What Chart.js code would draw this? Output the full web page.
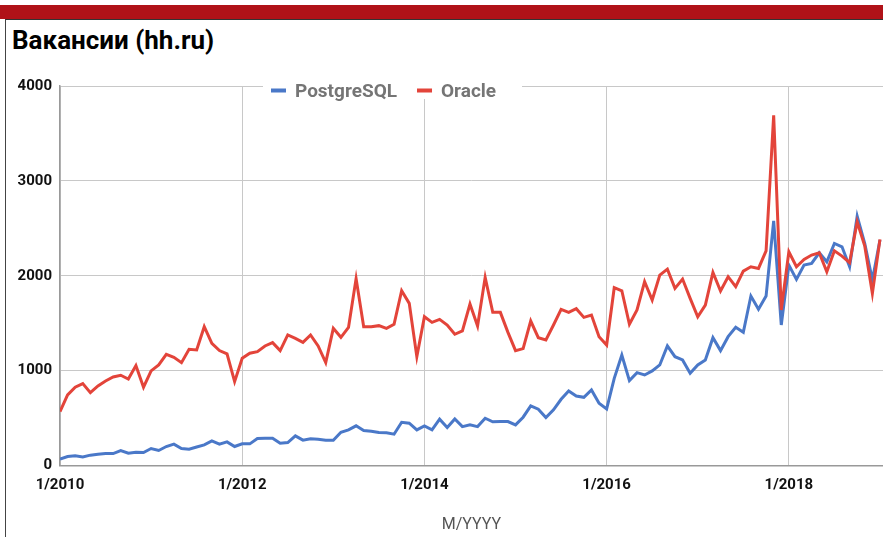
<!DOCTYPE html>
<html>
<head>
<meta charset="utf-8">
<script src="https://cdn.jsdelivr.net/npm/chart.js@4"></script>
<style>
  body { margin: 0; background: #fff; }
  #wrap { position: relative; width: 883px; height: 537px; overflow: hidden; }
  #bar { position: absolute; left: 0; top: 5px; width: 883px; height: 14px; background: #b01218; }
  #box { position: absolute; left: 5px; top: 19px; width: 900px; height: 540px;
         border-left: 1.5px solid #444; border-top: 1.5px solid #333; }
  #title { position: absolute; left: 12px; top: 25px; font: bold 26px Roboto, sans-serif; color: #000; }
  canvas { position: absolute; left: 0; top: 0; }
</style>
</head>
<body>
<div id="wrap">
  <div id="bar"></div>
  <div id="box"></div>
  <div id="title">Вакансии (hh.ru)</div>
  <canvas id="myChart" width="883" height="537"></canvas>
</div>
<script>
// months from 1/2010 to 1/2019
var startYear = 2010;
var monthCount = 109;
var seriesNames = ['PostgreSQL', 'Oracle'];
var seriesColours = ['#4a78c8', '#e3443a'];

var postgres = [
  67, 95, 102, 91, 109, 119, 126, 126, 158, 130, 140, 137,
  179, 158, 200, 225, 179, 172, 195, 218, 260, 225, 249, 200,
  228, 228, 284, 288, 288, 235, 242, 312, 267, 281, 277, 267,
  267, 351, 375, 418, 368, 361, 347, 344, 330, 456, 446, 375,
  418, 375, 488, 400, 491, 410, 428, 410, 498, 460, 463, 463,
  428, 509, 628, 593, 505, 586, 698, 786, 733, 719, 797, 656,
  597, 919, 1165, 895, 979, 954, 997, 1060, 1260, 1147, 1112, 972,
  1060, 1112, 1347, 1211, 1358, 1456, 1404, 1786, 1646, 1786, 2579, 1481,
  2112, 1962, 2112, 2130, 2242, 2147, 2340, 2305, 2095, 2628, 2340, 1955,
  2376
];
var oracle = [
  568, 744, 825, 863, 768, 839, 891, 933, 951, 912, 1053, 825,
  997, 1060, 1172, 1140, 1084, 1225, 1218, 1463, 1288, 1211, 1176, 884,
  1130, 1183, 1200, 1260, 1295, 1211, 1376, 1340, 1298, 1376, 1260, 1084,
  1446, 1351, 1456, 1970, 1463, 1463, 1474, 1446, 1488, 1842, 1709, 1147,
  1568, 1509, 1540, 1481, 1383, 1418, 1702, 1470, 1983, 1614, 1614, 1403,
  1211, 1232, 1523, 1347, 1323, 1481, 1646, 1614, 1653, 1561, 1586, 1358,
  1270, 1874, 1842, 1488, 1639, 1937, 1744, 2007, 2070, 1867, 1965, 1762,
  1568, 1691, 2035, 1839, 1990, 1884, 2049, 2095, 2077, 2263, 3691, 1639,
  2253, 2095, 2172, 2218, 2242, 2042, 2263, 2207, 2137, 2569, 2312, 1814,
  2383
];
var xTickMonths = [0, 24, 48, 72, 96];
var xTickLabels = ['1/2010', '1/2012', '1/2014', '1/2016', '1/2018'];
var yTicks = [0, 1000, 2000, 3000, 4000];

var labels = [];
for (var i = 0; i < monthCount; i++) {
  labels.push((i % 12 + 1) + '/' + (startYear + Math.floor(i / 12)));
}
function points(values) {
  var out = [];
  for (var i = 0; i < values.length; i++) out.push({x: i, y: values[i]});
  return out;
}

var legendPlugin = {
  id: 'topLegend',
  afterDraw: function(chart) {
    var ctx = chart.ctx;
    ctx.save();
    ctx.fillStyle = '#fff';
    ctx.fillRect(263, 79, 259, 20);
    ctx.font = 'bold 19px Roboto, sans-serif';
    ctx.textBaseline = 'alphabetic';
    var x = 271;
    for (var i = 0; i < seriesNames.length; i++) {
      ctx.fillStyle = seriesColours[i];
      ctx.fillRect(x, 88.5, 15, 4);
      x += 24;
      ctx.fillStyle = '#757575';
      ctx.fillText(seriesNames[i], x, 97);
      x += ctx.measureText(seriesNames[i]).width + 20;
    }
    ctx.restore();
  }
};

var tickFont = {family: 'Roboto, sans-serif', size: 15, weight: 'bold'};

new Chart(document.getElementById('myChart').getContext('2d'), {
  type: 'line',
  data: {
    labels: labels,
    datasets: [
      {label: seriesNames[0], data: points(postgres), borderColor: seriesColours[0],
       borderWidth: 3, pointRadius: 0, tension: 0, order: 1},
      {label: seriesNames[1], data: points(oracle), borderColor: seriesColours[1],
       borderWidth: 3, pointRadius: 0, tension: 0, order: 0}
    ]
  },
  options: {
    responsive: false,
    animation: false,
    devicePixelRatio: 1,
    layout: {padding: {top: 86, left: 0, right: 0, bottom: 0}},
    plugins: {legend: {display: false}, tooltip: {enabled: false}},
    scales: {
      x: {
        type: 'linear', min: 0, max: 108.4,
        afterBuildTicks: function(scale) {
          scale.ticks = xTickMonths.map(function(v) { return {value: v}; });
        },
        afterFit: function(scale) { scale.height = 71.5; },
        ticks: {
          font: tickFont, color: '#111', padding: 11, maxRotation: 0,
          callback: function(v) { return xTickLabels[xTickMonths.indexOf(v)]; }
        },
        grid: {color: '#c8c8c8', drawTicks: false},
        border: {color: '#999', width: 1.5},
        title: {display: true, text: 'M/YYYY', color: '#555',
                font: {family: 'Roboto, sans-serif', size: 16}, padding: {top: 0, bottom: 2}}
      },
      y: {
        min: 0, max: 4000,
        afterBuildTicks: function(scale) {
          scale.ticks = yTicks.map(function(v) { return {value: v}; });
        },
        afterFit: function(scale) { scale.width = 60; },
        ticks: {font: tickFont, color: '#111', padding: 8,
                callback: function(v) { return String(v); }},
        grid: {color: '#c8c8c8', drawTicks: false},
        border: {color: '#999', width: 1.5}
      }
    }
  },
  plugins: [legendPlugin]
});
</script>
</body>
</html>
